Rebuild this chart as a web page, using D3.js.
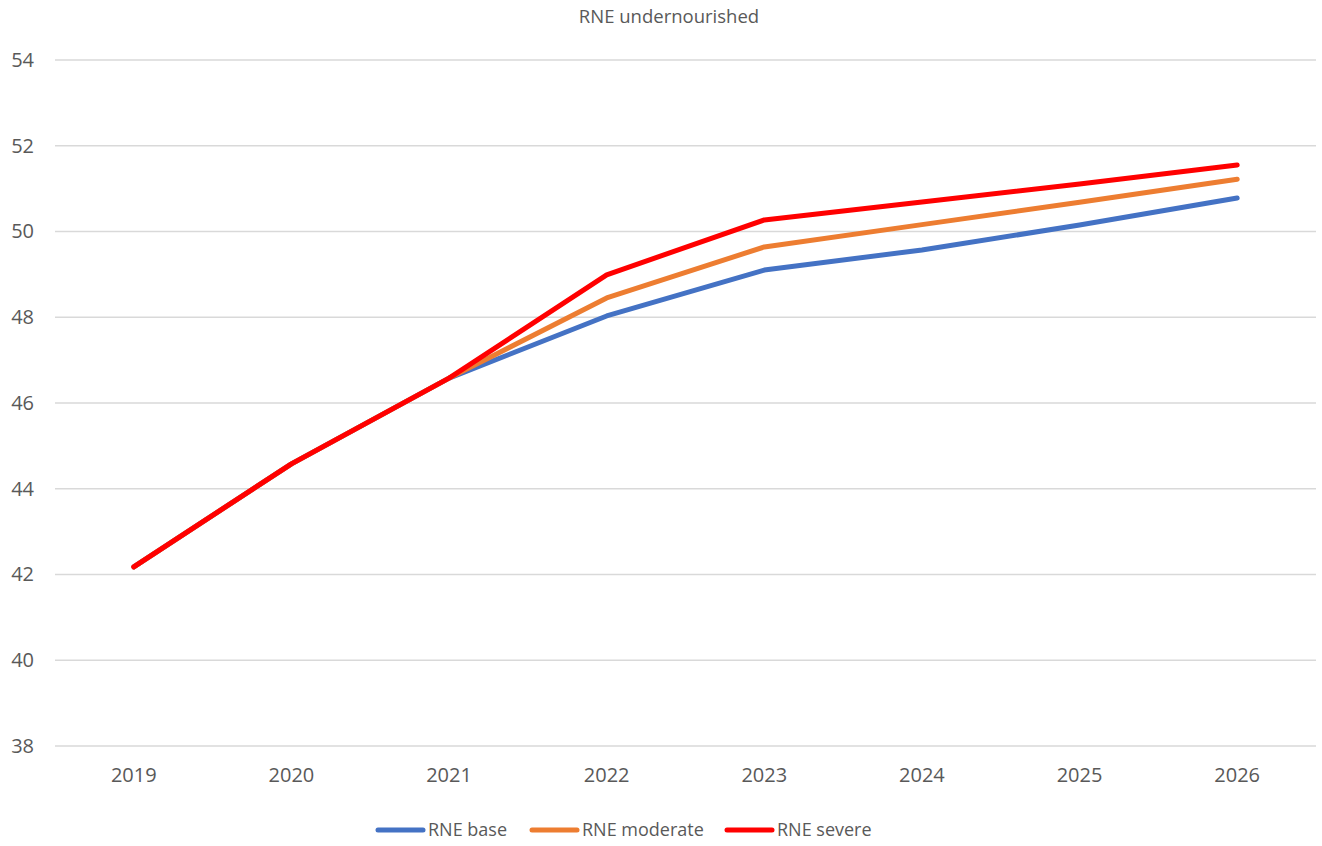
<!DOCTYPE html>
<html>
<head>
<meta charset="utf-8">
<script src="https://cdn.jsdelivr.net/npm/d3@7"></script>
<style>
  body { margin: 0; background: #fff; }
  .axis text { font-family: "Open Sans", sans-serif; fill: #595959; }
</style>
</head>
<body>
<div id="line-chart"></div>
<script>
var years = ["2019", "2020", "2021", "2022", "2023", "2024", "2025", "2026"];
var seriesNames = ["RNE base", "RNE moderate", "RNE severe"];
var baseValues = [42.18, 44.58, 46.58, 48.03, 49.10, 49.57, 50.15, 50.78];
var moderateValues = [42.18, 44.58, 46.58, 48.45, 49.64, 50.16, 50.68, 51.22];
var severeValues = [42.18, 44.58, 46.58, 48.99, 50.27, 50.69, 51.11, 51.55];
var yTicks = [38, 40, 42, 44, 46, 48, 50, 52, 54];
var title = "RNE undernourished";

var width = 1322, height = 846;
var margin = {top: 60, right: 6, bottom: 100, left: 55};

var color = d3.scaleOrdinal()
    .domain(seriesNames)
    .range(["#4472C4", "#ED7D31", "#FF0000"]);

var series = [
  {name: seriesNames[0], values: baseValues},
  {name: seriesNames[1], values: moderateValues},
  {name: seriesNames[2], values: severeValues}
];

var x = d3.scaleBand()
    .domain(years)
    .range([margin.left, width - margin.right]);

var y = d3.scaleLinear()
    .domain([38, 54])
    .range([height - margin.bottom, margin.top]);

var svg = d3.select("#line-chart").append("svg")
    .attr("width", width)
    .attr("height", height);

// title
svg.append("text")
    .attr("x", 669)
    .attr("y", 23)
    .attr("text-anchor", "middle")
    .style("font-family", "'Open Sans', sans-serif")
    .style("font-size", "18.5px")
    .style("fill", "#595959")
    .text(title);

// gridlines
svg.append("g")
    .selectAll("line")
    .data(yTicks)
    .enter().append("line")
    .attr("x1", margin.left)
    .attr("x2", width - margin.right)
    .attr("y1", function(d) { return y(d); })
    .attr("y2", function(d) { return y(d); })
    .attr("stroke", "#d9d9d9")
    .attr("stroke-width", 1.3);

// y axis
var yAxis = d3.axisLeft(y).tickValues(yTicks).tickSize(0).tickPadding(21);
svg.append("g")
    .attr("class", "axis")
    .attr("transform", "translate(" + margin.left + ",0)")
    .call(yAxis)
    .call(function(g) { g.select(".domain").remove(); })
    .selectAll("text")
    .style("font-size", "20px");

// x axis
var xAxis = d3.axisBottom(x).tickSize(0).tickPadding(22);
svg.append("g")
    .attr("class", "axis")
    .attr("transform", "translate(0," + (height - margin.bottom) + ")")
    .call(xAxis)
    .call(function(g) { g.select(".domain").remove(); })
    .selectAll("text")
    .style("font-size", "20px");

var line = d3.line()
    .x(function(d, i) { return x(years[i]) + x.bandwidth() / 2; })
    .y(function(d) { return y(d); });

svg.selectAll(".series")
    .data(series)
    .enter().append("path")
    .attr("class", "series")
    .attr("d", function(d) { return line(d.values); })
    .attr("fill", "none")
    .attr("stroke", function(d) { return color(d.name); })
    .attr("stroke-width", 5)
    .attr("stroke-linecap", "round")
    .attr("stroke-linejoin", "round");

// legend
var legendX = [378, 532, 727];
var legend = svg.selectAll(".legend")
    .data(seriesNames)
    .enter().append("g")
    .attr("class", "legend")
    .attr("transform", function(d, i) { return "translate(" + legendX[i] + ",830)"; });

legend.append("line")
    .attr("x1", 0)
    .attr("x2", 45)
    .attr("stroke", function(d) { return color(d); })
    .attr("stroke-width", 5)
    .attr("stroke-linecap", "round");

legend.append("text")
    .attr("x", 50)
    .attr("dy", "0.35em")
    .style("font-family", "'Open Sans', sans-serif")
    .style("font-size", "18px")
    .style("fill", "#595959")
    .text(function(d) { return d; });
</script>
</body>
</html>
